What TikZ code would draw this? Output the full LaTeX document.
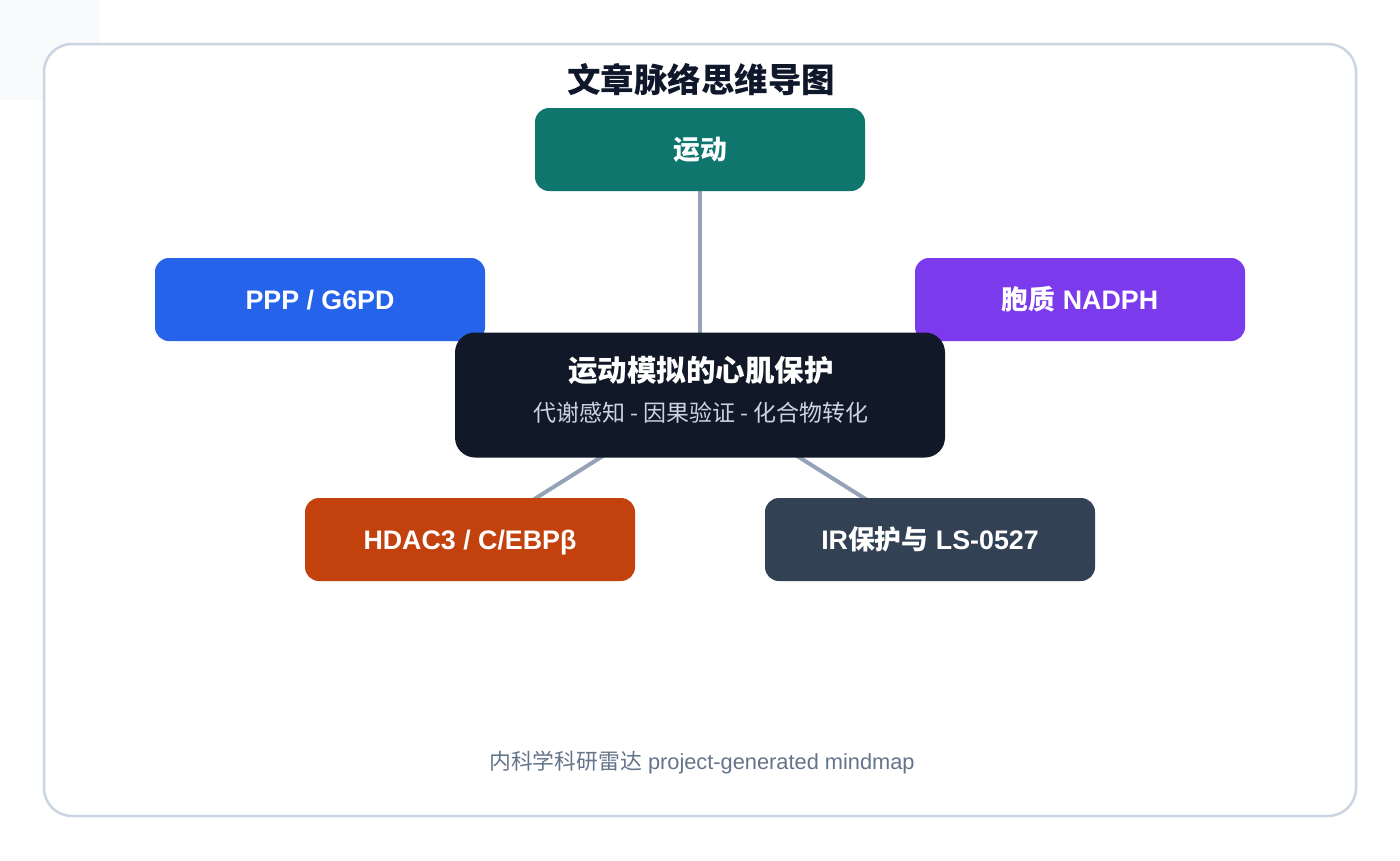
\documentclass[tikz,border=0pt]{standalone}
\usepackage{fontspec}
\setmainfont{Liberation Sans}
\newfontfamily\cjk{Noto Sans CJK SC}
\usetikzlibrary{backgrounds}
\definecolor{framec}{HTML}{CBD5E1}
\definecolor{cornerc}{HTML}{F8FAFC}
\definecolor{linkc}{HTML}{94A3B8}
\definecolor{tealc}{HTML}{0F766E}
\definecolor{bluec}{HTML}{2563EB}
\definecolor{purplec}{HTML}{7C3AED}
\definecolor{darkc}{HTML}{111827}
\definecolor{orangec}{HTML}{C2410C}
\definecolor{slatec}{HTML}{334155}
\definecolor{titlec}{HTML}{0F172A}
\definecolor{subc}{HTML}{CBD5E1}
\definecolor{footc}{HTML}{64748B}
\tikzset{
  branch/.style={rectangle, rounded corners=14pt, minimum width=330pt, minimum height=83pt, inner sep=0pt, text=white, text height=19.5pt, text depth=0pt, font=\fontsize{26.8}{30}\selectfont\bfseries},
  link/.style={draw=linkc, line width=4pt},
}
\begin{document}
\begin{tikzpicture}[x=1pt,y=-1pt]
\useasboundingbox (0,0) rectangle (1400,860);
\node[font=\fontsize{33.5}{36}\selectfont\bfseries\cjk, text=titlec] (title) at (701,80) {文章脉络思维导图};
\node[branch, fill=tealc] (n1) at (700,149.5) {\cjk 运动};
\node[branch, fill=bluec] (n2) at (320,299.5) {PPP / G6PD};
\node[branch, fill=purplec] (n3) at (1080,299.5) {{\cjk 胞质} NADPH};
\node[branch, fill=orangec] (n4) at (470,539.5) {HDAC3 / C/EBPβ};
\node[branch, fill=slatec] (n5) at (930,539.5) {IR{\cjk 保护与} LS-0527};
\node[rectangle, rounded corners=20pt, fill=darkc, minimum width=490pt, minimum height=125pt] (center) at (700,395) {};
\node[text=white, font=\fontsize{29.5}{32}\selectfont\bfseries\cjk] (ctitle) at (701,371) {运动模拟的心肌保护};
\node[text=subc, font=\fontsize{23}{26}\selectfont\cjk] (csub) at (701,413) {代谢感知 - 因果验证 - 化合物转化};
\node[text=footc, font=\fontsize{21.8}{24}\selectfont] (foot) at (702,762) {{\cjk 内科学科研雷达} project-generated mindmap};
\begin{scope}[on background layer]
\fill[cornerc] (0,0) rectangle (100,100);
\draw[framec, line width=2.5pt, fill=white, rounded corners=28pt] (44,44) rectangle (1356,816);
\draw[link] (center.center) -- (n1.center);
\draw[link] (center.center) -- (n2.center);
\draw[link] (center.center) -- (n3.center);
\draw[link] (center.center) -- (n4.center);
\draw[link] (center.center) -- (n5.center);
\end{scope}
\end{tikzpicture}
\end{document}
